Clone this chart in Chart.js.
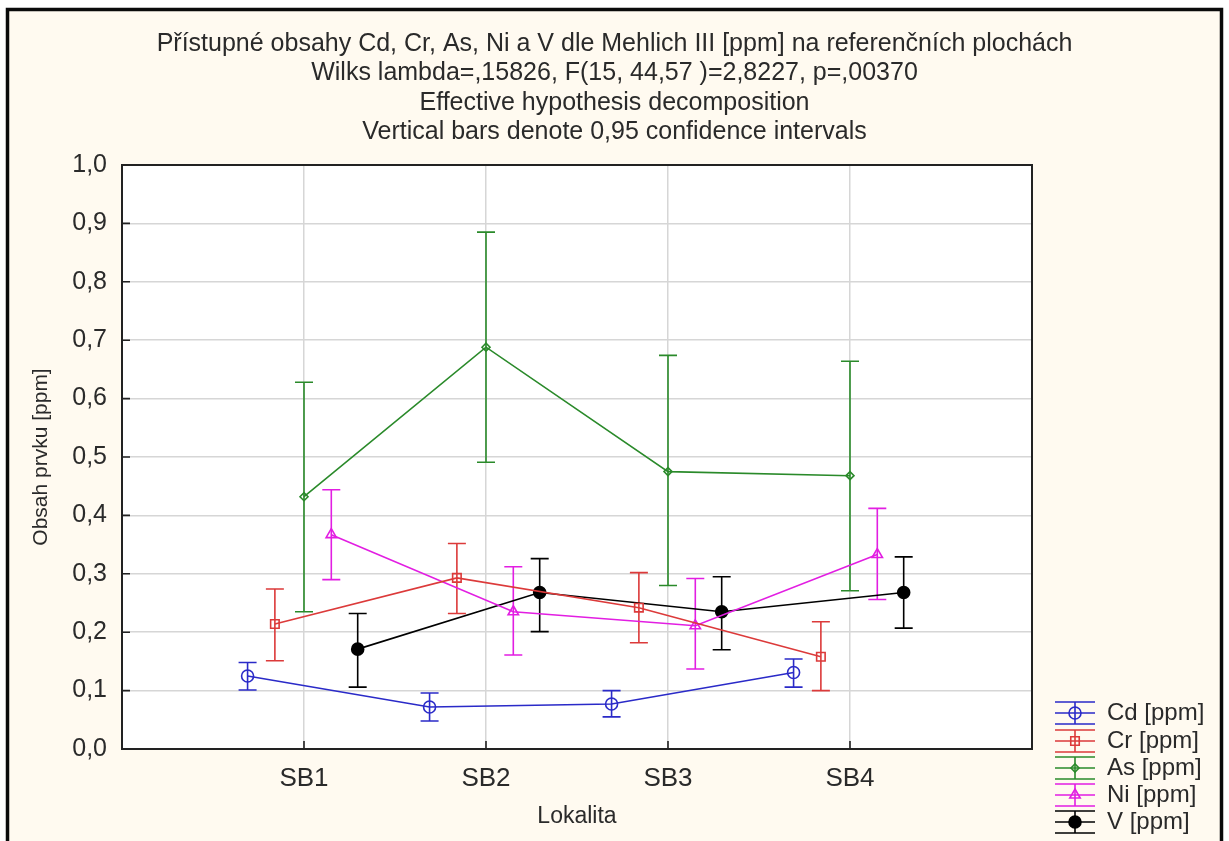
<!DOCTYPE html>
<html>
<head>
<meta charset="utf-8">
<script src="https://cdn.jsdelivr.net/npm/chart.js@4.4.1/dist/chart.umd.min.js"></script>
<style>
  html, body { margin: 0; padding: 0; background: #ffffff; }
  #wrap { width: 1229px; height: 841px; }
</style>
</head>
<body>
<div id="wrap"><canvas id="chart" width="1229" height="841"></canvas></div>
<script>
const categories = ['SB1', 'SB2', 'SB3', 'SB4'];

const cdMean = [0.125, 0.072, 0.077, 0.131];
const cdLow  = [0.101, 0.048, 0.055, 0.106];
const cdHigh = [0.148, 0.096, 0.100, 0.154];

const crMean = [0.214, 0.293, 0.242, 0.158];
const crLow  = [0.151, 0.232, 0.182, 0.100];
const crHigh = [0.274, 0.352, 0.302, 0.218];

const asMean = [0.432, 0.688, 0.475, 0.468];
const asLow  = [0.235, 0.491, 0.280, 0.271];
const asHigh = [0.628, 0.885, 0.674, 0.664];

const niMean = [0.367, 0.235, 0.211, 0.333];
const niLow  = [0.290, 0.161, 0.137, 0.256];
const niHigh = [0.444, 0.312, 0.292, 0.412];

const vMean = [0.171, 0.268, 0.235, 0.268];
const vLow  = [0.106, 0.201, 0.170, 0.207];
const vHigh = [0.232, 0.326, 0.295, 0.329];

const titleLines = [
    'Přístupné obsahy Cd, Cr, As, Ni a V dle Mehlich III [ppm] na referenčních plochách',
    'Wilks lambda=,15826, F(15, 44,57 )=2,8227, p=,00370',
    'Effective hypothesis decomposition',
    'Vertical bars denote 0,95 confidence intervals'
];

const fontFamily = "'Liberation Sans', Arial, sans-serif";
const textColor = '#2a2a2a';
const cream = '#fffaf0';

const blue = '#2a2ac8';
const red = '#dc3a3a';
const green = '#2a8a2a';
const magenta = '#e21ee2';
const black = '#000000';

// horizontal shift of each series inside a category (STATISTICA style)
function makeSeries(label, means, lows, highs, color, style, shift, filled, radius) {
    return {
        label: label,
        data: means.map((m, i) => ({ x: i + 1 + shift, y: m, lo: lows[i], hi: highs[i] })),
        showLine: true,
        borderColor: color,
        backgroundColor: color,
        borderWidth: 1.6,
        pointStyle: style,
        pointRadius: radius,
        pointBorderWidth: 1.6,
        pointBorderColor: color,
        pointBackgroundColor: filled ? color : 'rgba(0,0,0,0)',
        tension: 0
    };
}

const datasets = [
    makeSeries('Cd [ppm]', cdMean, cdLow, cdHigh, blue, 'circle', -0.31, false, 6),
    makeSeries('Cr [ppm]', crMean, crLow, crHigh, red, 'rect', -0.16, false, 6),
    makeSeries('As [ppm]', asMean, asLow, asHigh, green, 'rectRot', 0, false, 4),
    makeSeries('Ni [ppm]', niMean, niLow, niHigh, magenta, 'triangle', 0.15, false, 6),
    makeSeries('V [ppm]', vMean, vLow, vHigh, black, 'circle', 0.295, true, 6)
];

const backgroundPlugin = {
    id: 'background',
    beforeDraw(chart) {
        const ctx = chart.ctx;
        const a = chart.chartArea;
        ctx.save();
        ctx.fillStyle = '#ffffff';
        ctx.fillRect(0, 0, chart.width, chart.height);
        ctx.fillStyle = cream;
        ctx.fillRect(8, 10, 1213, chart.height - 10);
        ctx.strokeStyle = '#0a0a0a';
        ctx.lineWidth = 3.5;
        ctx.beginPath();
        ctx.moveTo(7.5, chart.height + 5);
        ctx.lineTo(7.5, 9.5);
        ctx.lineTo(1221.5, 9.5);
        ctx.lineTo(1221.5, chart.height + 5);
        ctx.stroke();
        ctx.fillStyle = '#ffffff';
        ctx.fillRect(a.left, a.top, a.right - a.left, a.bottom - a.top);
        ctx.restore();
    }
};

const errorBarPlugin = {
    id: 'errorBars',
    beforeDatasetsDraw(chart) {
        const ctx = chart.ctx;
        const xs = chart.scales.x;
        const ys = chart.scales.y;
        ctx.save();
        chart.data.datasets.forEach(ds => {
            ctx.strokeStyle = ds.borderColor;
            ctx.lineWidth = 1.6;
            ds.data.forEach(p => {
                const px = xs.getPixelForValue(p.x);
                const top = ys.getPixelForValue(p.hi);
                const bot = ys.getPixelForValue(p.lo);
                ctx.beginPath();
                ctx.moveTo(px, top);
                ctx.lineTo(px, bot);
                ctx.moveTo(px - 9, top);
                ctx.lineTo(px + 9, top);
                ctx.moveTo(px - 9, bot);
                ctx.lineTo(px + 9, bot);
                ctx.stroke();
            });
        });
        ctx.restore();
    }
};

const framePlugin = {
    id: 'frame',
    afterDraw(chart) {
        const ctx = chart.ctx;
        const a = chart.chartArea;
        ctx.save();
        ctx.strokeStyle = '#222222';
        ctx.lineWidth = 1.6;
        ctx.beginPath();
        chart.scales.y.ticks.forEach(t => {
            const py = chart.scales.y.getPixelForValue(t.value);
            ctx.moveTo(a.left, py);
            ctx.lineTo(a.left + 8, py);
        });
        chart.scales.x.ticks.forEach(t => {
            const px = chart.scales.x.getPixelForValue(t.value);
            ctx.moveTo(px, a.bottom);
            ctx.lineTo(px, a.bottom - 8);
        });
        ctx.stroke();
        ctx.lineWidth = 2;
        ctx.strokeRect(a.left, a.top, a.right - a.left, a.bottom - a.top);
        ctx.restore();

        // legend, bottom right
        ctx.save();
        const lx = 1075;
        const rowY = [713, 741, 768, 795, 822];
        ctx.font = '24px ' + fontFamily;
        ctx.textBaseline = 'middle';
        ctx.textAlign = 'left';
        chart.data.datasets.forEach((ds, i) => {
            const y = rowY[i];
            ctx.strokeStyle = ds.borderColor;
            ctx.lineWidth = 1.6;
            ctx.beginPath();
            ctx.moveTo(lx - 20, y - 11);
            ctx.lineTo(lx + 20, y - 11);
            ctx.moveTo(lx - 20, y);
            ctx.lineTo(lx + 20, y);
            ctx.moveTo(lx - 20, y + 11);
            ctx.lineTo(lx + 20, y + 11);
            ctx.moveTo(lx, y - 11);
            ctx.lineTo(lx, y + 11);
            ctx.stroke();
            ctx.fillStyle = ds.pointBackgroundColor;
            ctx.strokeStyle = ds.pointBorderColor;
            Chart.helpers.drawPoint(ctx, {
                pointStyle: ds.pointStyle,
                radius: ds.pointRadius,
                borderWidth: 1.6
            }, lx, y);
            ctx.fillStyle = textColor;
            ctx.fillText(ds.label, 1107, y);
        });
        ctx.restore();
    }
};

new Chart(document.getElementById('chart'), {
    type: 'scatter',
    data: { datasets: datasets },
    options: {
        responsive: false,
        animation: false,
        events: [],
        layout: { padding: { left: 0, top: 0, right: 0, bottom: 7 } },
        plugins: {
            legend: { display: false },
            tooltip: { enabled: false },
            title: {
                display: true,
                text: titleLines,
                color: textColor,
                font: { family: fontFamily, size: 25, weight: 'normal', lineHeight: 1.18 },
                padding: { top: 29, bottom: 18 }
            }
        },
        scales: {
            x: {
                type: 'linear',
                min: 0,
                max: 5,
                afterBuildTicks: scale => {
                    scale.ticks = categories.map((c, i) => ({ value: i + 1 }));
                },
                afterFit: scale => { scale.height = 85; },
                grid: { color: '#d6d6d6', lineWidth: 1.5, drawTicks: false },
                border: { display: false },
                ticks: {
                    padding: 14,
                    color: textColor,
                    font: { family: fontFamily, size: 26 },
                    callback: v => categories[v - 1] || ''
                },
                title: {
                    display: true,
                    text: 'Lokalita',
                    color: textColor,
                    font: { family: fontFamily, size: 23 }
                }
            },
            y: {
                min: 0,
                max: 1,
                afterFit: scale => { scale.width = 122; },
                grid: { color: '#d6d6d6', lineWidth: 1.5, drawTicks: false },
                border: { display: false },
                ticks: {
                    stepSize: 0.1,
                    padding: 15,
                    color: textColor,
                    font: { family: fontFamily, size: 25 },
                    callback: v => v.toFixed(1).replace('.', ',')
                },
                title: {
                    display: true,
                    text: 'Obsah prvku [ppm]',
                    color: textColor,
                    font: { family: fontFamily, size: 21 },
                    padding: { top: 29, bottom: 4 }
                }
            },
            // empty box on the right that leaves room for the legend
            side: {
                type: 'linear',
                position: 'right',
                display: true,
                afterFit: scale => { scale.width = 197; },
                grid: { display: false },
                border: { display: false },
                ticks: { display: false }
            }
        }
    },
    plugins: [backgroundPlugin, errorBarPlugin, framePlugin]
});
</script>
</body>
</html>
